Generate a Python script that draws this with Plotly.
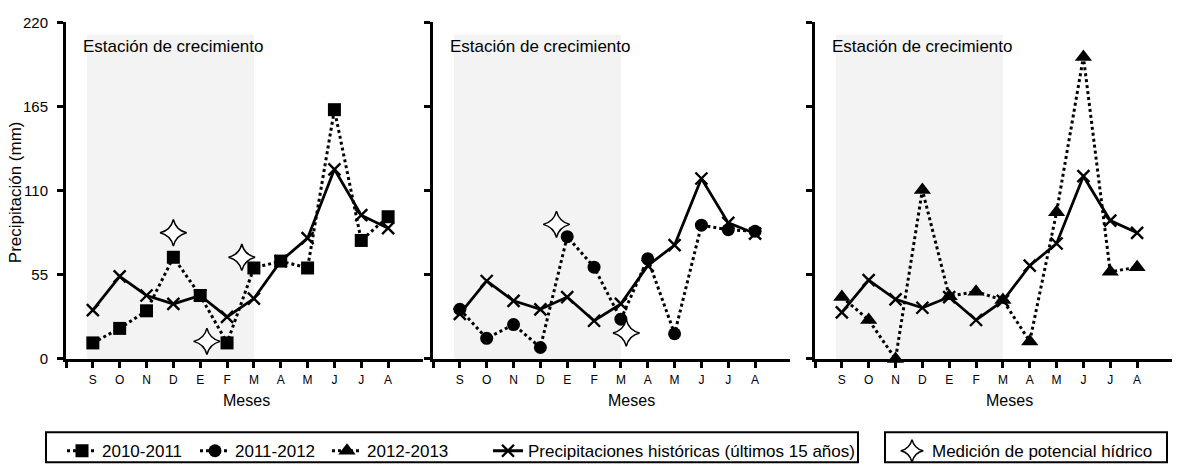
import plotly.graph_objects as go

W, H = 1177, 474
FONT = "Liberation Sans, Arial, sans-serif"

# ---------------- data ----------------
months = ["S", "O", "N", "D", "E", "F", "M", "A", "M", "J", "J", "A"]
month_pos = list(range(12))

rain_2010_2011 = [10.5, 20, 31.5, 66.5, 41.5, 10.5, 59.5, 64, 59.5, 163, 77.5, 93]
hist_panel1 = [32, 54, 41.5, 36, 41.5, 27.5, 39.5, 64, 79, 124, 94, 85.5]

rain_2011_2012 = [32.5, 13.5, 22.5, 7.5, 80, 60, 26, 65.5, 16.5, 87.5, 84.5, 83.5]
hist_panel2 = [29.5, 51, 38, 32.5, 40.5, 25, 36, 61, 74.5, 118, 89, 82]

rain_2012_2013 = [40.5, 25.5, 0, 110.5, 41, 44, 38.5, 11.5, 96, 197.5, 57, 60]
hist_panel3 = [30.5, 51.5, 39, 33.5, 40.5, 25.5, 38, 61, 75.5, 119.5, 90.5, 82.5]

# water-potential measurement dates (month position) and heights
star_pos_p1 = [3.0, 4.25, 5.55]
star_val_p1 = [82.5, 11.5, 66.5]
star_pos_p2 = [3.6, 6.2]
star_val_p2 = [88, 17]

y_ticks = [0, 55, 110, 165, 220]
season_start, season_end, season_top = -0.22, 6, 212

# ---------------- figure ----------------
fig = go.Figure()

series = [
    ("2010-2011", rain_2010_2011, hist_panel1, "square", 13, 1, 88),
    ("2011-2012", rain_2011_2012, hist_panel2, "circle", 13, 2, 87),
    ("2012-2013", rain_2012_2013, hist_panel3, "triangle-up", 15, 3, 116),
]

for i, (name, vals, hist, sym, msize, rank, lw) in enumerate(series):
    ax = "" if i == 0 else str(i + 1)
    fig.add_trace(go.Scatter(
        x=month_pos, y=hist, mode="lines+markers",
        name="Precipitaciones históricas (últimos 15 años)",
        line=dict(color="black", width=2.8),
        marker=dict(symbol="x-thin-open", size=12, color="black",
                    line=dict(color="black", width=2.4)),
        showlegend=(i == 0), legendrank=10, legendwidth=330, cliponaxis=False,
        xaxis="x" + ax, yaxis="y" + ax,
    ))
    fig.add_trace(go.Scatter(
        x=month_pos, y=vals, mode="lines+markers", name=name,
        line=dict(color="black", width=3, dash="dot"),
        marker=dict(symbol=sym, size=msize, color="black"),
        legendrank=rank, legendwidth=lw, cliponaxis=False,
        xaxis="x" + ax, yaxis="y" + ax,
    ))

for j, (sx, sy) in enumerate([(star_pos_p1, star_val_p1), (star_pos_p2, star_val_p2)]):
    ax = "" if j == 0 else str(j + 1)
    fig.add_trace(go.Scatter(
        x=sx, y=sy, mode="markers", name="Medición de potencial hídrico",
        marker=dict(symbol="star-diamond", size=19, color="white",
                    line=dict(color="black", width=1.5)),
        showlegend=(j == 0), legend="legend2", cliponaxis=False,
        xaxis="x" + ax, yaxis="y" + ax,
    ))

domains_px = [(66, 423), (433, 790), (815, 1172)]
meses_x = [5.74, 6.41, 6.23]
ydom = [111 / H, 460 / H]

legend_common = dict(orientation="h", yanchor="top", y=1 - 440 / H, xanchor="left",
                     borderwidth=0, bgcolor="rgba(0,0,0,0)",
                     font=dict(family=FONT, size=17), traceorder="normal")
layout = dict(
    width=W, height=H, margin=dict(l=0, r=0, t=0, b=0),
    paper_bgcolor="white", plot_bgcolor="white",
    font=dict(family=FONT, color="black", size=16),
    showlegend=True,
    legend=dict(x=62 / W, **legend_common),
    legend2=dict(x=892 / W, **legend_common),
)

shapes = [
    dict(type="rect", xref="paper", yref="paper", x0=46 / W, x1=858 / W,
         y0=1 - 470 / H, y1=1 - 439 / H, line=dict(color="black", width=2),
         fillcolor="rgba(0,0,0,0)", layer="above"),
    dict(type="rect", xref="paper", yref="paper", x0=885 / W, x1=1167 / W,
         y0=1 - 470 / H, y1=1 - 439 / H, line=dict(color="black", width=2),
         fillcolor="rgba(0,0,0,0)", layer="above"),
]
annotations = []
for i, (a, b) in enumerate(domains_px):
    ax = "" if i == 0 else str(i + 1)
    layout["xaxis" + ax] = dict(
        domain=[a / W, b / W], anchor="y" + ax, range=[-1, 12.3],
        tickmode="array", tickvals=[-1] + month_pos, ticktext=[""] + months,
        ticks="outside", ticklen=6, tickwidth=2.5, tickcolor="black",
        showline=True, linewidth=3, linecolor="black",
        showgrid=False, zeroline=False, fixedrange=True,
        tickfont=dict(family=FONT, size=12), ticklabelstandoff=2,
    )
    layout["yaxis" + ax] = dict(
        domain=ydom, anchor="x" + ax, range=[0, 220],
        tickmode="array", tickvals=y_ticks,
        ticks="outside", ticklen=6, tickwidth=2.5, tickcolor="black",
        showline=True, linewidth=3, linecolor="black",
        showgrid=False, zeroline=False, fixedrange=True,
        showticklabels=(i == 0), tickfont=dict(family=FONT, size=15),
        ticklabelstandoff=6,
    )
    shapes.append(dict(type="rect", xref="x" + ax, yref="y" + ax,
                       x0=season_start, x1=season_end, y0=0, y1=season_top,
                       fillcolor="#f3f3f3", line=dict(width=0), layer="below"))
    shapes.append(dict(type="line", xref="x" + ax, yref="y" + ax,
                       x0=-1.28, x1=-1, y0=0, y1=0,
                       line=dict(color="black", width=3)))
    annotations.append(dict(text="Estación de crecimiento", xref="x" + ax, yref="y" + ax,
                            x=-0.43, y=204.5, xanchor="left", yanchor="middle",
                            showarrow=False, font=dict(family=FONT, size=17)))
    annotations.append(dict(text="Meses", xref="x" + ax, yref="paper",
                            x=meses_x[i], y=1 - 406 / H, xanchor="center", yanchor="middle",
                            showarrow=False, font=dict(family=FONT, size=16)))

annotations.append(dict(text="Precipitación (mm)", xref="paper", yref="paper",
                        x=15 / W, y=1 - 190 / H, xanchor="center", yanchor="middle",
                        textangle=-90, showarrow=False, font=dict(family=FONT, size=17)))

layout["shapes"] = shapes
layout["annotations"] = annotations
fig.update_layout(**layout)

fig.write_html("out.html")
